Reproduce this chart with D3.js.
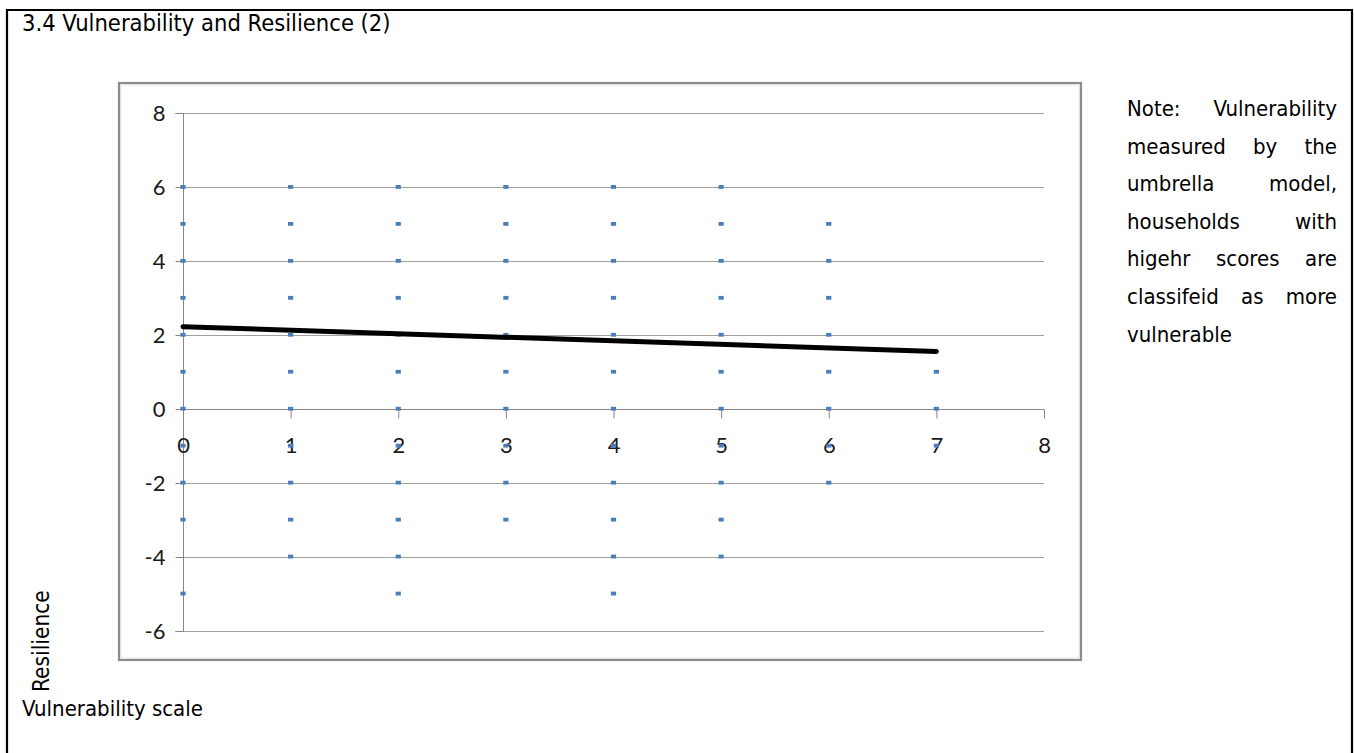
<!DOCTYPE html>
<html>
<head>
<meta charset="utf-8">
<script src="https://cdn.jsdelivr.net/npm/d3@7"></script>
<style>
  html, body { margin: 0; padding: 0; background: #fff; }
  svg { display: block; }
  .txt { font-family: "DejaVu Sans Condensed", "DejaVu Sans", sans-serif; font-stretch: condensed; fill: #000; }
  .tick text { font-family: Lato, "Liberation Sans", sans-serif; fill: #1a1a1a; }
</style>
</head>
<body>
<svg id="chart" width="1354" height="753"></svg>
<script>
// ---------- data ----------
const titleText = "3.4 Vulnerability and Resilience (2)";
const xAxisTitle = "Vulnerability scale";
const yAxisTitle = "Resilience";
const noteLines = ["Note: Vulnerability", "measured by the", "umbrella model,", "households with", "higehr scores are", "classifeid as more", "vulnerable"];

const vulnerabilityScores = [0, 1, 2, 3, 4, 5, 6, 7];
const resilienceAt0 = [6, 5, 4, 3, 2, 1, 0, -1, -2, -3, -5];
const resilienceAt1 = [6, 5, 4, 3, 2, 1, 0, -1, -2, -3, -4];
const resilienceAt2 = [6, 5, 4, 3, 2, 1, 0, -1, -2, -3, -4, -5];
const resilienceAt3 = [6, 5, 4, 3, 2, 1, 0, -1, -2, -3];
const resilienceAt4 = [6, 5, 4, 3, 2, 1, 0, -1, -2, -3, -4, -5];
const resilienceAt5 = [6, 5, 4, 3, 2, 1, 0, -1, -2, -3, -4];
const resilienceAt6 = [5, 4, 3, 2, 1, 0, -1, -2];
const resilienceAt7 = [1, 0, -1];
const resilienceColumns = [resilienceAt0, resilienceAt1, resilienceAt2, resilienceAt3, resilienceAt4, resilienceAt5, resilienceAt6, resilienceAt7];

const trendX = [0, 7];
const trendY = [2.22, 1.55];

const xTicks = [0, 1, 2, 3, 4, 5, 6, 7, 8];
const yTicks = [-6, -4, -2, 0, 2, 4, 6, 8];

const points = [];
vulnerabilityScores.forEach((v, i) => resilienceColumns[i].forEach(r => points.push({ x: v, y: r })));

// ---------- drawing ----------
const svg = d3.select("#chart");
const fmt = d => String(d); // hyphen-minus like the original

// outer cell border (no bottom edge visible)
svg.append("path")
  .attr("d", "M7,760 L7,10 L1352,10 L1352,760")
  .attr("fill", "none").attr("stroke", "#000").attr("stroke-width", 2.2);

// title
svg.append("text").attr("class", "txt").attr("x", 22).attr("y", 31)
  .style("font-size", "23.5px").text(titleText);

// chart frame
svg.append("rect").attr("x", 119).attr("y", 83).attr("width", 962).attr("height", 577)
  .attr("fill", "none").attr("stroke", "#8c8c8c").attr("stroke-width", 2.2);
svg.append("rect").attr("x", 120.8).attr("y", 84.8).attr("width", 958.4).attr("height", 573.4)
  .attr("fill", "none").attr("stroke", "#dcdcdc").attr("stroke-width", 1);

const x = d3.scaleLinear().domain([0, 8]).range([183, 1044]);
const y = d3.scaleLinear().domain([-6, 8]).range([630.5, 113]);

// horizontal gridlines
svg.append("g").selectAll("line").data(yTicks).join("line")
  .attr("x1", x(0)).attr("x2", x(8))
  .attr("y1", d => Math.round(y(d)) + 0.5).attr("y2", d => Math.round(y(d)) + 0.5)
  .attr("stroke", "#a0a0a0").attr("stroke-width", 1);

// y axis
const yAxis = d3.axisLeft(y).tickValues(yTicks).tickSize(8).tickPadding(10).tickFormat(fmt);
const gy = svg.append("g").attr("transform", `translate(${x(0) + 0.5},0)`).call(yAxis);
gy.select(".domain").attr("stroke", "#868686");
gy.selectAll(".tick line").attr("stroke", "#868686");
gy.selectAll(".tick text").style("font-size", "22px").attr("fill", "#1a1a1a");
gy.selectAll(".tick").attr("transform", d => `translate(0,${Math.round(y(d)) + 0.5})`);
gy.select(".domain").attr("d", `M-8,${Math.round(y(8)) + 0.5}H0V${Math.round(y(-6)) + 0.5}H-8`);

// x axis at y = 0
const xAxis = d3.axisBottom(x).tickValues(xTicks).tickSize(9).tickPadding(19).tickFormat(fmt);
const gx = svg.append("g").attr("transform", `translate(0,${Math.round(y(0)) + 0.5})`).call(xAxis);
gx.select(".domain").attr("stroke", "#868686").attr("d", `M${x(0)},0H${x(8)}`);
gx.selectAll(".tick line").attr("stroke", "#868686");
gx.selectAll(".tick text").style("font-size", "22px").attr("fill", "#1a1a1a");

// points
svg.append("g").selectAll("rect").data(points).join("rect")
  .attr("x", d => x(d.x) - 2.6).attr("y", d => y(d.y) - 1.9)
  .attr("width", 5.2).attr("height", 3.8)
  .attr("fill", "#4a7ebb");

// trend line
const line = d3.line().x(d => x(d[0])).y(d => y(d[1]));
svg.append("path").datum(trendX.map((v, i) => [v, trendY[i]]))
  .attr("d", line).attr("fill", "none").attr("stroke", "#000")
  .attr("stroke-width", 5).attr("stroke-linecap", "round");

// axis titles
svg.append("text").attr("class", "txt").attr("transform", "translate(49,692) rotate(-90)")
  .style("font-size", "22.5px").text(yAxisTitle);
svg.append("text").attr("class", "txt").attr("x", 22).attr("y", 716)
  .style("font-size", "22px").text(xAxisTitle);

// justified note
const noteLeft = 1127, noteRight = 1337, noteTop = 116, noteStep = 37.6;
const noteG = svg.append("g");
noteLines.forEach((ln, i) => {
  const words = ln.split(" ");
  const by = noteTop + i * noteStep;
  const last = i === noteLines.length - 1;
  if (last || words.length === 1) {
    noteG.append("text").attr("class", "txt").attr("x", noteLeft).attr("y", by)
      .style("font-size", "22px").text(ln);
    return;
  }
  const nodes = words.map(w => noteG.append("text").attr("class", "txt").attr("y", by)
    .style("font-size", "22px").text(w));
  const widths = nodes.map(n => n.node().getComputedTextLength());
  const total = d3.sum(widths);
  const gap = (noteRight - noteLeft - total) / (words.length - 1);
  let cx = noteLeft;
  nodes.forEach((n, k) => { n.attr("x", cx); cx += widths[k] + gap; });
});
</script>
</body>
</html>
